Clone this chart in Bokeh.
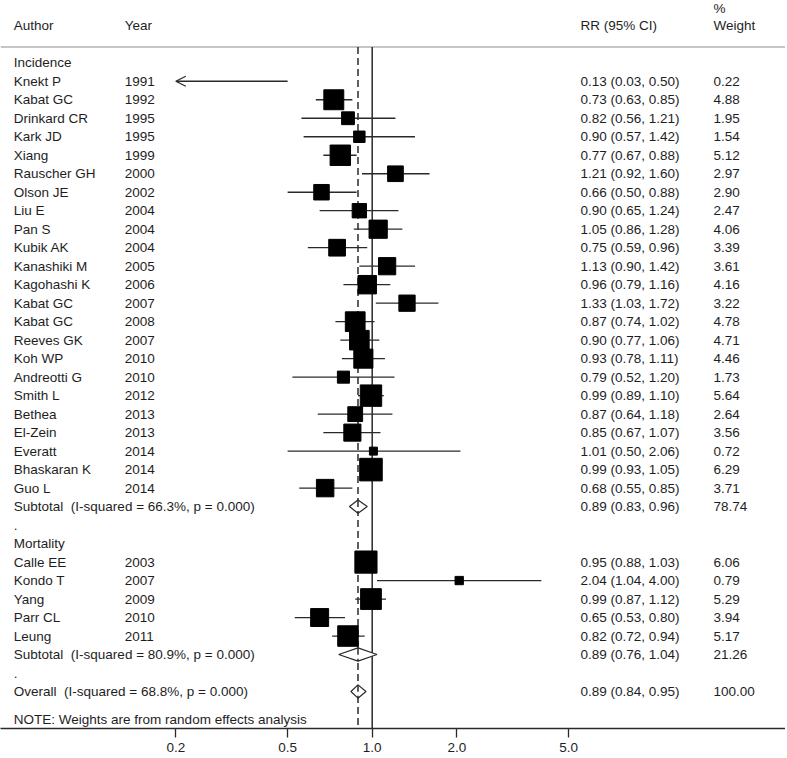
import numpy as np
from bokeh.plotting import figure
from bokeh.models import Range1d, FixedTicker, Arrow, OpenHead, ColumnDataSource
from bokeh.core.properties import value
from bokeh.embed import file_html
from bokeh.resources import INLINE

# ---------------- data ----------------
inc_authors = ["Knekt P", "Kabat GC", "Drinkard CR", "Kark JD", "Xiang", "Rauscher GH", "Olson JE",
               "Liu E", "Pan S", "Kubik AK", "Kanashiki M", "Kagohashi K", "Kabat GC", "Kabat GC",
               "Reeves GK", "Koh WP", "Andreotti G", "Smith L", "Bethea", "El-Zein", "Everatt",
               "Bhaskaran K", "Guo L"]
inc_years = [1991, 1992, 1995, 1995, 1999, 2000, 2002, 2004, 2004, 2004, 2005, 2006, 2007, 2008,
             2007, 2010, 2010, 2012, 2013, 2013, 2014, 2014, 2014]
inc_rr = [0.13, 0.73, 0.82, 0.90, 0.77, 1.21, 0.66, 0.90, 1.05, 0.75, 1.13, 0.96, 1.33, 0.87,
          0.90, 0.93, 0.79, 0.99, 0.87, 0.85, 1.01, 0.99, 0.68]
inc_lo = [0.03, 0.63, 0.56, 0.57, 0.67, 0.92, 0.50, 0.65, 0.86, 0.59, 0.90, 0.79, 1.03, 0.74,
          0.77, 0.78, 0.52, 0.89, 0.64, 0.67, 0.50, 0.93, 0.55]
inc_hi = [0.50, 0.85, 1.21, 1.42, 0.88, 1.60, 0.88, 1.24, 1.28, 0.96, 1.42, 1.16, 1.72, 1.02,
          1.06, 1.11, 1.20, 1.10, 1.18, 1.07, 2.06, 1.05, 0.85]
inc_weight = [0.22, 4.88, 1.95, 1.54, 5.12, 2.97, 2.90, 2.47, 4.06, 3.39, 3.61, 4.16, 3.22, 4.78,
              4.71, 4.46, 1.73, 5.64, 2.64, 3.56, 0.72, 6.29, 3.71]

mor_authors = ["Calle EE", "Kondo T", "Yang", "Parr CL", "Leung"]
mor_years = [2003, 2007, 2009, 2010, 2011]
mor_rr = [0.95, 2.04, 0.99, 0.65, 0.82]
mor_lo = [0.88, 1.04, 0.87, 0.53, 0.72]
mor_hi = [1.03, 4.00, 1.12, 0.80, 0.94]
mor_weight = [6.06, 0.79, 5.29, 3.94, 5.17]

pooled_labels = ["Subtotal\u00a0\u00a0(I-squared = 66.3%, p = 0.000)",
                 "Subtotal\u00a0\u00a0(I-squared = 80.9%, p = 0.000)",
                 "Overall\u00a0\u00a0(I-squared = 68.8%, p = 0.000)"]
pooled_rr = [0.89, 0.89, 0.89]
pooled_lo = [0.83, 0.76, 0.84]
pooled_hi = [0.96, 1.04, 0.95]
pooled_weight = [78.74, 21.26, 100.00]

tick_values = [0.2, 0.5, 1.0, 2.0, 5.0]
tick_labels = ["0.2", "0.5", "1.0", "2.0", "5.0"]
axis_min, axis_max = 0.2, 5.0
overall_line = 0.89

# ---------------- layout of rows ----------------
inc_rows = list(range(1, 1 + len(inc_authors)))
sub1_row = inc_rows[-1] + 1
mor_head_row = sub1_row + 2
mor_rows = list(range(mor_head_row + 1, mor_head_row + 1 + len(mor_authors)))
sub2_row = mor_rows[-1] + 1
overall_row = sub2_row + 2
pooled_rows = [sub1_row, sub2_row, overall_row]

authors = inc_authors + mor_authors
years = inc_years + mor_years
rr = np.array(inc_rr + mor_rr)
lo = np.array(inc_lo + mor_lo)
hi = np.array(inc_hi + mor_hi)
weight = np.array(inc_weight + mor_weight)
rows = np.array(inc_rows + mor_rows, dtype=float)

FONT = "Liberation Sans"
FS = "13.5px"
TXT = "#1e1e1e"
LINE = "#2a2a2a"

Y_TOP, Y_BOT = -3.368, 36.0
p = figure(frame_width=785, frame_height=728, output_backend="svg", toolbar_location=None,
           x_range=Range1d(-1.3228, 1.4708), y_range=Range1d(Y_BOT, Y_TOP),
           y_axis_location=None, min_border=0,
           background_fill_color="white", border_fill_color="white")
p.outline_line_color = None
p.grid.visible = False

# axis
p.xaxis.ticker = FixedTicker(ticks=list(np.log10(tick_values)))
p.xaxis.major_label_overrides = {float(np.log10(v)): l for v, l in zip(tick_values, tick_labels)}
p.xaxis.minor_tick_line_color = None
p.xaxis.major_tick_in = 0
p.xaxis.major_tick_out = 9
p.xaxis.major_label_standoff = 5
p.xaxis.axis_line_color = LINE
p.xaxis.axis_line_width = 1.3
p.xaxis.major_tick_line_color = LINE
p.xaxis.major_tick_line_width = 1.3
p.xaxis.major_label_text_font = FONT
p.xaxis.major_label_text_font_size = FS
p.xaxis.major_label_text_color = TXT

# top rule
RULE_R = -0.854
p.segment(x0=[-1.3228], y0=[RULE_R], x1=[1.4708], y1=[RULE_R], line_color="#8c8c8c", line_width=1.2)

# reference lines
p.segment(x0=[0.0], y0=[RULE_R], x1=[0.0], y1=[Y_BOT], line_color=LINE, line_width=1.5)
lx = float(np.log10(overall_line))
p.segment(x0=[lx], y0=[RULE_R], x1=[lx], y1=[Y_BOT], line_color=LINE, line_width=1.5,
          line_dash="7 4")

# CIs
lo_c = np.clip(lo, axis_min, axis_max)
hi_c = np.clip(hi, axis_min, axis_max)
normal = (lo >= axis_min) & (hi <= axis_max)
ci_src = ColumnDataSource(dict(x0=np.log10(lo_c[normal]), x1=np.log10(hi_c[normal]), y=rows[normal]))
p.segment(x0="x0", y0="y", x1="x1", y1="y", source=ci_src, line_color=LINE, line_width=1.3)
for i in np.where(lo < axis_min)[0]:
    p.add_layout(Arrow(end=OpenHead(size=10, line_width=1.3, line_color=LINE),
                       x_start=float(np.log10(hi_c[i])), y_start=float(rows[i]),
                       x_end=float(np.log10(axis_min)), y_end=float(rows[i]),
                       line_color=LINE, line_width=1.3))

# squares (area proportional to weight)
vis = (rr >= axis_min) & (rr <= axis_max)
sq_src = ColumnDataSource(dict(x=np.log10(rr[vis]), y=rows[vis], s=0.5 + 8.8 * np.sqrt(weight[vis])))
p.scatter(x="x", y="y", size="s", marker="square", source=sq_src,
          fill_color="black", line_color="black", line_width=1)

# diamonds
H = 0.36
dx, dy = [], []
for r0, e, l, h in zip(pooled_rows, pooled_rr, pooled_lo, pooled_hi):
    dx.append([np.log10(l), np.log10(e), np.log10(h), np.log10(e)])
    dy.append([r0, r0 - H, r0, r0 + H])
p.patches(xs=dx, ys=dy, fill_color="white", line_color=LINE, line_width=1.2)
p.segment(x0=[lx] * 3, y0=[r - H for r in pooled_rows], x1=[lx] * 3,
          y1=[r + H for r in pooled_rows], line_color=LINE, line_width=1.5, line_dash="7 4")

# ---------------- text columns ----------------
X_AUTH, X_YEAR, X_RR, X_W = -1.2754, -0.8804, 0.7413, 1.2146


def txt(x, y, t):
    p.text(x=x, y=y, text=t, text_font=value(FONT), text_font_size=FS, text_color=TXT,
           text_baseline="middle", text_align="left")


txt([X_AUTH, X_YEAR, X_RR, X_W], [-2.0] * 4, ["Author", "Year", "RR (95% CI)", "Weight"])
txt([X_W], [-2.93], ["%"])
txt([X_AUTH, X_AUTH], [0, mor_head_row], ["Incidence", "Mortality"])
txt([X_AUTH, X_AUTH], [sub1_row + 1, sub2_row + 1], [".", "."])
txt([X_AUTH] * len(authors), list(rows), authors)
txt([X_YEAR] * len(years), list(rows), [str(y) for y in years])
txt([X_RR] * len(rr), list(rows), [f"{a:.2f} ({b:.2f}, {c:.2f})" for a, b, c in zip(rr, lo, hi)])
txt([X_W] * len(weight), list(rows), [f"{w:.2f}" for w in weight])
txt([X_AUTH] * 3, pooled_rows, pooled_labels)
txt([X_RR] * 3, pooled_rows, [f"{a:.2f} ({b:.2f}, {c:.2f})" for a, b, c in zip(pooled_rr, pooled_lo, pooled_hi)])
txt([X_W] * 3, pooled_rows, [f"{w:.2f}" for w in pooled_weight])
txt([X_AUTH], [overall_row + 1.5], ["NOTE: Weights are from random effects analysis"])

open("out.html", "w").write(file_html(p, INLINE))
